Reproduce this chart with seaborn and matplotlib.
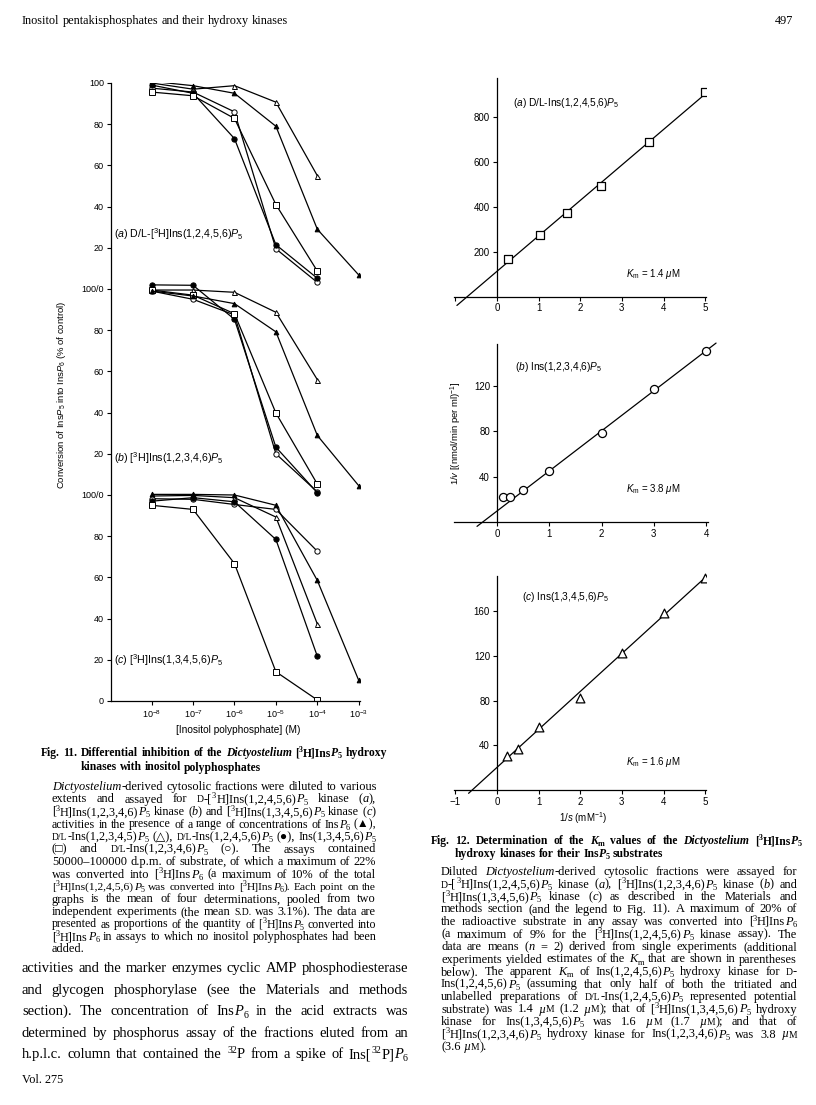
import re
import numpy as np
import pandas as pd
import matplotlib
matplotlib.use('Agg')
import matplotlib.pyplot as plt
import seaborn as sns

nan = np.nan

# ---- Fig. 11: log10 [inositol polyphosphate] (M) vs conversion (% of control)
log_conc = [-8, -7, -6, -5, -4, -3]
compounds = ['InsP6', 'Ins12345P5', 'Ins12456P5', 'Ins13456P5', 'Ins12346P5']

# (a) D/L-[3H]Ins(1,2,4,5,6)P5 kinase
a_insp6 = [100.8, 98.7, 95.0, 79.0, 29.0, 6.8]
a_ins12345 = [100.0, 97.0, 98.7, 90.7, 55.0, nan]
a_ins12456 = [99.0, 95.0, 73.0, 21.5, 5.2, nan]
a_ins13456 = [95.6, 93.8, 82.8, 41.0, 8.7, nan]
a_ins12346 = [97.5, 95.6, 86.0, 19.5, 3.2, nan]
# (b) [3H]Ins(1,2,3,4,6)P5 kinase
b_insp6 = [99.0, 96.6, 92.9, 79.2, 28.9, 4.5]
b_ins12345 = [99.5, 99.5, 98.4, 88.7, 56.0, nan]
b_ins12456 = [102.0, 101.8, 85.3, 23.2, 1.1, nan]
b_ins13456 = [99.5, 97.0, 88.0, 39.8, 5.3, nan]
b_ins12346 = [99.0, 95.0, 87.4, 20.0, 1.5, nan]
# (c) [3H]Ins(1,3,4,5,6)P5 kinase
c_insp6 = [100.3, 100.3, 100.0, 95.0, 58.5, 10.0]
c_ins12345 = [99.5, 99.8, 98.7, 89.3, 37.4, nan]
c_ins12456 = [97.0, 98.7, 96.7, 78.4, 21.7, nan]
c_ins13456 = [95.0, 93.0, 66.7, 14.2, 0.5, nan]
c_ins12346 = [98.2, 97.9, 95.4, 93.0, 72.7, nan]

# ---- Fig. 12: double-reciprocal plots, 1/s (mM-1) vs 1/v
a_inv_s = [0.27, 1.03, 1.68, 2.5, 3.65, 5.0]
a_inv_v = [168, 275, 372, 491, 690, 913]
b_inv_s = [0.12, 0.25, 0.5, 1.0, 2.0, 3.0, 4.0]
b_inv_v = [22, 22, 28, 44.7, 78.8, 117, 151]
b_fit_from = 2  # the two lowest 1/s points are left out of the line
c_inv_s = [0.25, 0.5, 1.0, 2.0, 3.0, 4.0, 5.0]
c_inv_v = [30, 36.7, 56.4, 82.7, 122.7, 158.5, 189.8]

W, H = 816, 1105
sns.set_theme(style='ticks')
plt.rcParams['font.family'] = ['Liberation Sans', 'DejaVu Sans']
plt.rcParams['mathtext.fontset'] = 'custom'
plt.rcParams['mathtext.rm'] = 'Liberation Sans'
plt.rcParams['mathtext.it'] = 'Liberation Sans:italic'
plt.rcParams['mathtext.bf'] = 'Liberation Sans:bold'
plt.rcParams['axes.linewidth'] = 0.9
plt.rcParams['axes.edgecolor'] = 'black'

fig = plt.figure(figsize=(W / 100, H / 100), dpi=100)
fig.patch.set_facecolor('white')


def px_axes(left, top, right, bottom):
    return fig.add_axes([left / W, 1 - bottom / H, (right - left) / W, (bottom - top) / H])


def style_ticks(ax, size=6.5):
    ax.tick_params(direction='out', length=3, width=0.8, labelsize=size, pad=2, colors='black')
    for s in ['top', 'right']:
        ax.spines[s].set_visible(False)
    ax.set_facecolor('none')


# ================= Fig. 11 =================
rows = []
panel_vals = {
    'a': [a_insp6, a_ins12345, a_ins12456, a_ins13456, a_ins12346],
    'b': [b_insp6, b_ins12345, b_ins12456, b_ins13456, b_ins12346],
    'c': [c_insp6, c_ins12345, c_ins12456, c_ins13456, c_ins12346],
}
offsets = {'a': 200, 'b': 100, 'c': 0}
for p, series in panel_vals.items():
    for comp, vals in zip(compounds, series):
        for lc, v in zip(log_conc, vals):
            rows.append(dict(panel=p, compound=comp, conc=10.0 ** lc, conv=v))
df11 = pd.DataFrame(rows).dropna()
df11['y'] = df11['conv'] + df11['panel'].map(offsets)

marker_style = {
    'InsP6': dict(marker='^', ms=3.4, mfc='black'),
    'Ins12345P5': dict(marker='^', ms=3.6, mfc='white'),
    'Ins12456P5': dict(marker='o', ms=3.8, mfc='black'),
    'Ins13456P5': dict(marker='s', ms=4.0, mfc='white'),
    'Ins12346P5': dict(marker='o', ms=3.8, mfc='white'),
}

ax1 = px_axes(111, 83, 360, 701)
ax1.set_xscale('log')
for (p, comp), g in df11.groupby(['panel', 'compound']):
    sns.lineplot(data=g, x='conc', y='y', ax=ax1, color='black', lw=0.9,
                 mec='black', mew=0.7, **marker_style[comp])
ax1.set_xlim(10 ** -8.98, 10 ** -2.97)
ax1.set_ylim(0, 300)
ax1.set_xlabel('')
ax1.set_ylabel('')
ax1.set_xticks([10.0 ** e for e in log_conc])
ax1.set_xticklabels([r'10$^{%d}$' % e for e in log_conc])
ax1.minorticks_off()
yt = list(range(0, 301, 20))
ylab = []
for v in yt:
    if v in (100, 200):
        ylab.append('100/0')
    elif v == 300:
        ylab.append('100')
    else:
        ylab.append(str(v % 100))
ax1.set_yticks(yt)
ax1.set_yticklabels(ylab)
style_ticks(ax1)

# ================= Fig. 12 =================
def recip_panel(ax, xs, ys, marker, ms, fit_from, line_range, xlim, ylim, xbound, ytop,
                xticks, xlabels, yticks):
    ax.set_xlim(*line_range)
    sns.regplot(x=xs[fit_from:], y=ys[fit_from:], ax=ax, ci=None, truncate=False,
                scatter=False, line_kws=dict(color='black', lw=0.9))
    sns.scatterplot(x=xs, y=ys, ax=ax, marker=marker, s=ms, color='white',
                    edgecolor='black', linewidth=0.9, zorder=3)
    ax.set_xlim(*xlim)
    ax.set_ylim(*ylim)
    ax.spines['left'].set_position(('data', 0))
    ax.spines['bottom'].set_position(('data', 0))
    ax.spines['left'].set_bounds(0, ytop)
    ax.spines['bottom'].set_bounds(*xbound)
    ax.set_xticks(xticks)
    ax.set_xticklabels(xlabels)
    ax.set_yticks(yticks)
    ax.set_xlabel('')
    ax.set_ylabel('')
    style_ticks(ax, 7)


axa = px_axes(454, 78, 706, 306.6)
recip_panel(axa, a_inv_s, a_inv_v, 's', 34, 0, (-0.96, 5.0), (-1.03, 5.02), (-45, 975),
            (-1.03, 5.02), 975, [-1, 0, 1, 2, 3, 4, 5], ['', '0', '1', '2', '3', '4', '5'],
            [200, 400, 600, 800])

axb = px_axes(454, 340.7, 719.2, 531)
recip_panel(axb, b_inv_s, b_inv_v, 'o', 34, b_fit_from, (-0.38, 4.19), (-0.82, 4.25), (-8, 160),
            (-0.82, 4.03), 157, [0, 1, 2, 3, 4], ['0', '1', '2', '3', '4'], [40, 80, 120])

axc = px_axes(454, 572.2, 706, 803.4)
recip_panel(axc, c_inv_s, c_inv_v, '^', 40, 0, (-0.68, 5.0), (-1.03, 5.02), (-12, 195),
            (-1.03, 5.02), 192, [-1, 0, 1, 2, 3, 4, 5],
            ['\u22121', '0', '1', '2', '3', '4', '5'], [40, 80, 120, 160])

# ================= page text =================
ov = fig.add_axes([0, 0, 1, 1])
ov.set_xlim(0, W)
ov.set_ylim(H, 0)
ov.axis('off')
rnd = fig.canvas.get_renderer()
SERIF = ['Liberation Serif', 'DejaVu Sans']
SANS = ['Liberation Sans', 'DejaVu Sans']

# figure labels
lab = dict(family=SANS, color='black', va='center')
ov.text(114, 234, r'($a$) D/L-[$^{3}$H]Ins(1,2,4,5,6)$P_5$', fontsize=7.7, **lab)
ov.text(114, 458, r'($b$) [$^{3}$H]Ins(1,2,3,4,6)$P_5$', fontsize=7.7, **lab)
ov.text(114, 660, r'($c$) [$^{3}$H]Ins(1,3,4,5,6)$P_5$', fontsize=7.7, **lab)
ov.text(62, 395, r'Conversion of Ins$P_5$ into Ins$P_6$ (% of control)', rotation=90,
        ha='center', fontsize=6.8, **lab)
ov.text(238, 730, '[Inositol polyphosphate] (M)', ha='center', fontsize=7.3, **lab)
ov.text(513, 103, r'($a$) D/L-Ins(1,2,4,5,6)$P_5$', fontsize=7.3, **lab)
ov.text(515, 367, r'($b$) Ins(1,2,3,4,6)$P_5$', fontsize=7.3, **lab)
ov.text(522, 597, r'($c$) Ins(1,3,4,5,6)$P_5$', fontsize=7.3, **lab)
ov.text(626, 274, r'$K_\mathrm{m}$ = 1.4 $\mu$M', fontsize=7, **lab)
ov.text(626, 489, r'$K_\mathrm{m}$ = 3.8 $\mu$M', fontsize=7, **lab)
ov.text(626, 762, r'$K_\mathrm{m}$ = 1.6 $\mu$M', fontsize=7, **lab)
ov.text(456, 433, r'1/$v$ [(nmol/min per ml)$^{-1}$]', rotation=90, ha='center',
        fontsize=6.8, **lab)
ov.text(583, 818, r'1/$s$ (mM$^{-1}$)', ha='center', fontsize=7, **lab)

# body text markup: *..* italic, ^{..} superscript, _{..} subscript, ~{..} small capitals
TOK = re.compile(r'\^\{([^}]*)\}|_\{([^}]*)\}|~\{([^}]*)\}|(\*)|([^*^_~]+)')
PT = 100 / 72


def make_words(line, size, weight):
    words = []
    italic = False
    for w in line.split(' '):
        segs = []
        for m in TOK.finditer(w):
            sup, sub, sc, star, txt = m.groups()
            if star:
                italic = not italic
                continue
            if sup is not None:
                s, dy, fs = sup, -0.36 * size * PT, size * 0.68
            elif sub is not None:
                s, dy, fs = sub, 0.2 * size * PT, size * 0.68
            elif sc is not None:
                s, dy, fs = sc, 0, size * 0.78
            else:
                s, dy, fs = txt, 0, size
            t = ov.text(0, 0, s, fontsize=fs, fontweight=weight,
                        fontstyle='italic' if italic else 'normal', family=SERIF,
                        va='baseline', color='black')
            segs.append((t, t.get_window_extent(rnd).width, dy))
        words.append(segs)
    return words


def space(size):
    return size * 0.25 * PT


def natural_width(line, size, weight):
    words = make_words(line, size, weight)
    total = sum(s[1] for segs in words for s in segs) + (len(words) - 1) * space(size)
    for segs in words:
        for s in segs:
            s[0].remove()
    return total


def fit_size(lines, width, base, weight='normal', how=max):
    nat = [natural_width(l, base, weight) for l in lines]
    return base * width / how(nat) * 0.99


def put_line(line, x0, y, width, size, weight='normal', justify=True):
    if justify:
        nat = natural_width(line, size, weight)
        if nat > width:
            size = size * width / nat * 0.995
    words = make_words(line, size, weight)
    widths = [sum(s[1] for s in segs) for segs in words]
    if justify and len(words) > 1:
        gap = (width - sum(widths)) / (len(words) - 1)
    else:
        gap = space(size)
    x = x0
    for segs, w in zip(words, widths):
        xx = x
        for t, sw, dy in segs:
            t.set_x(xx)
            t.set_y(y + dy)
            xx += sw
        x += w + gap


def put_par(lines, x0, y0, width, size, lead, last_justify=False, weight='normal'):
    for i, line in enumerate(lines):
        last = i == len(lines) - 1
        put_line(line, x0, y0 + i * lead, width, size, weight, justify=(not last) or last_justify)


header = 'Inositol pentakisphosphates and their hydroxy kinases'
hsize = fit_size([header], 268, 8.6)
put_line(header, 22, 24, 0, hsize, justify=False)
ov.text(793, 24, '497', fontsize=hsize, family=SERIF, ha='right', va='baseline', color='black')
ov.text(22, 1083, 'Vol. 275', fontsize=hsize, family=SERIF, ha='left', va='baseline', color='black')

fig11_cap = r'Fig. 11. Differential inhibition of the *Dictyostelium* [^{3}H]Ins*P*_{5} hydroxy'
csize = fit_size([fig11_cap], 346, 8, 'bold')
put_line(fig11_cap, 41, 756, 346, csize, weight='bold')
put_line('kinases with inositol polyphosphates', 81, 770.5, 0, csize, weight='bold', justify=False)

fig11_body = [
    r'*Dictyostelium*-derived cytosolic fractions were diluted to various',
    r'extents and assayed for ~{D}-[^{3}H]Ins(1,2,4,5,6)*P*_{5} kinase (*a*),',
    r'[^{3}H]Ins(1,2,3,4,6)*P*_{5} kinase (*b*) and [^{3}H]Ins(1,3,4,5,6)*P*_{5} kinase (*c*)',
    r'activities in the presence of a range of concentrations of Ins*P*_{6} (▲),',
    r'~{D/L}-Ins(1,2,3,4,5)*P*_{5} (△), ~{D/L}-Ins(1,2,4,5,6)*P*_{5} (●), Ins(1,3,4,5,6)*P*_{5}',
    r'(□) and ~{D/L}-Ins(1,2,3,4,6)*P*_{5} (○). The assays contained',
    r'50000–100000 d.p.m. of substrate, of which a maximum of 22%',
    r'was converted into [^{3}H]Ins*P*_{6} (a maximum of 10% of the total',
    r'[^{3}H]Ins(1,2,4,5,6)*P*_{5} was converted into [^{3}H]Ins*P*_{6}). Each point on the',
    r'graphs is the mean of four determinations, pooled from two',
    r'independent experiments (the mean ~{S.D.} was 3.1%). The data are',
    r'presented as proportions of the quantity of [^{3}H]Ins*P*_{5} converted into',
    r'[^{3}H]Ins*P*_{6} in assays to which no inositol polyphosphates had been',
    r'added.',
]

fig12_body = [
    r'Diluted *Dictyostelium*-derived cytosolic fractions were assayed for',
    r'~{D}-[^{3}H]Ins(1,2,4,5,6)*P*_{5} kinase (*a*), [^{3}H]Ins(1,2,3,4,6)*P*_{5} kinase (*b*) and',
    r'[^{3}H]Ins(1,3,4,5,6)*P*_{5} kinase (*c*) as described in the Materials and',
    r'methods section (and the legend to Fig. 11). A maximum of 20% of',
    r'the radioactive substrate in any assay was converted into [^{3}H]Ins*P*_{6}',
    r'(a maximum of 9% for the [^{3}H]Ins(1,2,4,5,6)*P*_{5} kinase assay). The',
    r'data are means (*n* = 2) derived from single experiments (additional',
    r'experiments yielded estimates of the *K*_{m} that are shown in parentheses',
    r'below). The apparent *K*_{m} of Ins(1,2,4,5,6)*P*_{5} hydroxy kinase for ~{D}-',
    r'Ins(1,2,4,5,6)*P*_{5} (assuming that only half of both the tritiated and',
    r'unlabelled preparations of ~{D/L}-Ins(1,2,4,5,6)*P*_{5} represented potential',
    r'substrate) was 1.4 *µ*~{M} (1.2 *µ*~{M}); that of [^{3}H]Ins(1,3,4,5,6)*P*_{5} hydroxy',
    r'kinase for Ins(1,3,4,5,6)*P*_{5} was 1.6 *µ*~{M} (1.7 *µ*~{M}); and that of',
    r'[^{3}H]Ins(1,2,3,4,6)*P*_{5} hydroxy kinase for Ins(1,2,3,4,6)*P*_{5} was 3.8 *µ*~{M}',
    r'(3.6 *µ*~{M}).',
]
# type size from the typical (median) line; over-long lines are set a little tighter
bsize = min(fit_size(fig11_body[:-1], 324, 8, how=np.median),
            fit_size(fig12_body[:-1], 356, 8, how=np.median))
put_par(fig11_body, 52, 790, 324, bsize, 12.5)

left_body = [
    r'activities and the marker enzymes cyclic AMP phosphodiesterase',
    r'and glycogen phosphorylase (see the Materials and methods',
    r'section). The concentration of Ins*P*_{6} in the acid extracts was',
    r'determined by phosphorus assay of the fractions eluted from an',
    r'h.p.l.c. column that contained the ^{32}P from a spike of Ins[^{32}P]*P*_{6}',
]
lsize = fit_size(left_body, 386, 10)
put_par(left_body, 22, 972, 386, lsize, 21.6, last_justify=True)

fig12_cap = r'Fig. 12. Determination of the *K*_{m} values of the *Dictyostelium* [^{3}H]Ins*P*_{5}'
put_line(fig12_cap, 431, 844, 371, csize, weight='bold')
put_line(r'hydroxy kinases for their Ins*P*_{5} substrates', 455, 857, 0, csize, weight='bold',
         justify=False)

put_par(fig12_body, 441, 875, 356, bsize, 12.5)

fig.savefig('out.png', dpi=100, facecolor='white')
